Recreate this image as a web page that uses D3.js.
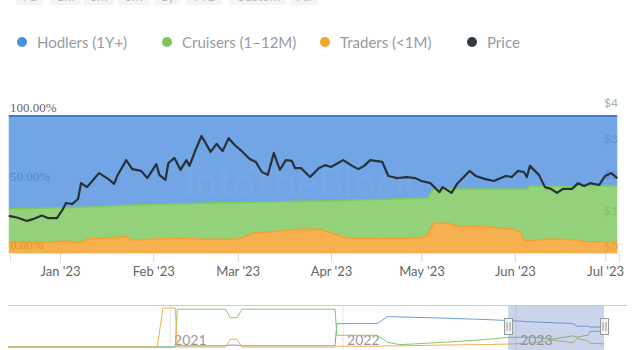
<!DOCTYPE html>
<html>
<head>
<meta charset="utf-8">
<script src="https://cdn.jsdelivr.net/npm/d3@7"></script>
<style>
  html, body { margin: 0; padding: 0; background: #fff; }
  svg { display: block; }
</style>
</head>
<body>
<svg id="chart" width="640" height="350"></svg>
<script>
// ---------------- DATA ----------------
const rangeButtons = ["7d", "1m", "3m", "6m", "1y", "YTD", "Custom", "All"];
const seriesNames = ["Hodlers (1Y+)", "Cruisers (1–12M)", "Traders (<1M)", "Price"];

const priceDates = ["2022-12-15","2022-12-18","2022-12-21","2022-12-23","2022-12-26","2022-12-28","2022-12-31",
  "2023-01-02","2023-01-03","2023-01-05","2023-01-07","2023-01-08","2023-01-10","2023-01-12","2023-01-14",
  "2023-01-17","2023-01-19","2023-01-20","2023-01-23","2023-01-25","2023-01-28","2023-01-30",
  "2023-02-02","2023-02-03","2023-02-05","2023-02-06","2023-02-08","2023-02-10","2023-02-12","2023-02-13",
  "2023-02-15","2023-02-17","2023-02-20","2023-02-22","2023-02-24","2023-02-26","2023-02-28",
  "2023-03-02","2023-03-05","2023-03-07","2023-03-09","2023-03-11","2023-03-13","2023-03-15","2023-03-17",
  "2023-03-19","2023-03-20","2023-03-22","2023-03-25","2023-03-26","2023-03-28","2023-03-30",
  "2023-04-01","2023-04-05","2023-04-08","2023-04-10","2023-04-12","2023-04-14","2023-04-18","2023-04-20",
  "2023-04-23","2023-04-26","2023-04-29",
  "2023-05-01","2023-05-04","2023-05-07","2023-05-08","2023-05-11","2023-05-13","2023-05-17","2023-05-19",
  "2023-05-22","2023-05-25","2023-05-29","2023-05-31",
  "2023-06-02","2023-06-04","2023-06-05","2023-06-06","2023-06-09","2023-06-11","2023-06-13","2023-06-15",
  "2023-06-17","2023-06-20","2023-06-22","2023-06-24","2023-06-26","2023-06-29",
  "2023-07-01","2023-07-03","2023-07-05"];
const priceValues = [1.03,0.98,0.89,0.94,1.04,0.97,0.97,
  1.22,1.39,1.36,1.50,1.94,1.83,2.03,2.22,
  2.06,1.92,2.14,2.58,2.33,2.28,2.08,
  2.47,2.17,2.03,2.50,2.64,2.31,2.58,2.42,
  2.86,3.25,2.81,3.03,2.83,3.19,3.00,
  2.86,2.61,2.53,2.25,2.17,2.78,2.31,2.58,
  2.56,2.36,2.36,2.11,2.19,2.36,2.44,
  2.39,2.58,2.42,2.33,2.42,2.58,2.53,2.14,
  2.08,2.11,2.08,
  2.00,1.94,1.69,1.83,1.67,1.94,2.28,2.14,
  2.06,2.00,2.14,2.11,
  2.28,2.25,2.11,2.42,2.17,1.83,1.78,1.67,
  1.78,1.78,1.94,1.86,1.94,1.89,
  2.14,2.22,2.08];

const shareDates = ["2022-12-15","2022-12-28","2023-01-03","2023-01-07","2023-01-10","2023-01-14","2023-01-23",
  "2023-01-25","2023-01-31","2023-02-11","2023-02-17","2023-02-28","2023-03-02","2023-03-06","2023-03-16",
  "2023-03-21","2023-03-28","2023-04-01","2023-04-05","2023-04-08","2023-04-19","2023-05-01","2023-05-03",
  "2023-05-05","2023-05-10","2023-05-13","2023-05-23","2023-05-31","2023-06-03","2023-06-04","2023-06-05",
  "2023-06-06","2023-06-13","2023-06-22","2023-06-24","2023-07-05"];
const traders = [7.5,7.8,8.8,7.5,10.0,10.7,11.9,9.5,10.0,10.7,10.0,10.0,10.7,14.4,16.3,17.3,17.3,14.8,11.9,10.7,
  10.5,11.2,13.1,21.7,21.7,19.7,19.2,17.3,15.5,9.0,9.1,9.2,10.2,9.5,8.2,8.2];
const cruisers = [24.6,25.0,24.3,25.9,23.6,23.1,22.9,25.5,25.4,25.3,26.3,26.8,26.2,22.7,21.2,20.4,20.7,23.4,26.5,27.9,
  28.7,28.7,26.9,25.0,25.0,27.0,27.5,29.4,31.2,37.7,37.6,39.7,38.7,39.4,40.7,40.7];
const hodlers = [67.9,67.2,66.9,66.6,66.4,66.2,65.2,65.0,64.6,64.0,63.7,63.2,63.1,62.9,62.5,62.3,62.0,61.8,61.6,61.4,
  60.8,60.1,60.0,53.3,53.3,53.3,53.3,53.3,53.3,53.3,53.3,51.1,51.1,51.1,51.1,51.1];

const shareTicks = [0, 50, 100];
const priceTicks = [0, 1, 2, 3, 4];

// navigator (full history)
const navDates = ["2020-01-25","2020-12-05","2020-12-17","2021-01-12","2021-01-16","2021-04-28","2021-05-08",
  "2021-05-22","2021-06-02","2021-12-15","2021-12-19","2022-03-14","2022-04-05","2022-05-01","2022-08-01",
  "2022-10-15","2022-12-15","2023-01-31","2023-03-21","2023-05-01","2023-05-10","2023-06-03","2023-06-06","2023-07-05"];
const navHodlers = [0,0,0,0,3,3,5,5,3,3,60,60,78,77,74,71,68,64.6,62.3,60.1,53.3,53.3,51.1,51.1];
const navCruisers = [0,0,0,0,97,97,75,75,97,97,30,30,12,6,12,18,24.6,25.4,20.4,28.7,25,31.2,39.7,40.7];
const navTraders = [0,0,100,100,0,0,20,20,0,0,2,2,3,3,5,6,7.5,10,17.3,11.2,21.7,15.5,9.2,8.2];

// ---------------- DRAW ----------------
const svg = d3.select("#chart");
const parse = d3.utcParse("%Y-%m-%d");
const colors = { hodlers: "#4f8ee0", cruisers: "#78c759", traders: "#f49c23", price: "#263238" };
const lineColors = { hodlers: "#3f7bd3", cruisers: "#7ccb5c", traders: "#f2a030" };
const navColors = { hodlers: "#6b9fe0", cruisers: "#84c96a", traders: "#f0b04e" };

// range buttons (clipped at top, as in the source screenshot)
const btnW = [27, 31, 31, 31, 25, 37, 58, 27];
const btnX = [16, 50, 83, 118, 155, 186, 229, 291];
const btn = svg.append("g");
rangeButtons.forEach((t, i) => {
  btn.append("rect").attr("x", btnX[i]).attr("y", -20).attr("width", btnW[i]).attr("height", 25)
    .attr("rx", 2).attr("fill", "#f4f4f4");
  btn.append("text").attr("x", btnX[i] + btnW[i] / 2).attr("y", 1).attr("text-anchor", "middle")
    .attr("font-family", "Lato, sans-serif").attr("font-size", 13).attr("fill", "#bbb").text(t);
});

// legend
const legendX = [22, 167, 325, 472];
const legendColors = ["#4a90e2", "#7ec45c", "#f5a623", "#333a40"];
const lg = svg.append("g");
seriesNames.forEach((n, i) => {
  lg.append("circle").attr("cx", legendX[i]).attr("cy", 42).attr("r", 5).attr("fill", legendColors[i]);
  lg.append("text").attr("x", legendX[i] + 15).attr("y", 47.5).attr("font-family", "Lato, sans-serif")
    .attr("font-size", 15).attr("fill", "#979ca1").text(n);
});

// scales
const L = 10, R = 619, T = 116, B = 253;
const x = d3.scaleUtc()
  .domain([new Date(Date.UTC(2022, 11, 15, 10)), new Date(Date.UTC(2023, 6, 5, 14))])
  .range([L, R]);
const yPct = d3.scaleLinear().domain([0, 100]).range([B, T]);
const yPrice = d3.scaleLinear().domain([0, 4]).range([B, 109]);

// axis labels beneath series
const leftLab = svg.append("g");
shareTicks.forEach(v => {
  leftLab.append("text").attr("x", L).attr("y", yPct(v) - 4)
    .attr("font-family", "'Liberation Serif', serif").attr("font-size", 13).attr("fill", "#666")
    .text(d3.format(".2f")(v) + "%");
});
const rightLab = svg.append("g");
priceTicks.forEach(v => {
  rightLab.append("text").attr("x", R - 1).attr("y", yPrice(v) - 2).attr("text-anchor", "end")
    .attr("font-family", "Lato, sans-serif").attr("font-size", 12).attr("fill", "#aaa")
    .text("$" + v);
});

// stacked areas
const rows = shareDates.map((d, i) => ({ date: parse(d), traders: traders[i], cruisers: cruisers[i], hodlers: hodlers[i] }));
const keys = ["traders", "cruisers", "hodlers"];
const stacked = d3.stack().keys(keys)(rows);
const area = d3.area().x(d => x(d.data.date)).y0(d => yPct(d[0])).y1(d => yPct(d[1]));
const topLine = d3.line().x(d => x(d.data.date)).y(d => yPct(d[1]));
const plot = svg.append("g");
stacked.slice().reverse().forEach(s => {
  plot.append("path").datum(s).attr("d", area).attr("fill", colors[s.key]).attr("fill-opacity", 0.8);
});
stacked.forEach(s => {
  plot.append("path").datum(s).attr("d", topLine).attr("fill", "none")
    .attr("stroke", lineColors[s.key]).attr("stroke-width", s.key === "hodlers" ? 2 : 1.5);
});

// watermark
svg.append("text").attr("x", 300).attr("y", 196).attr("text-anchor", "middle")
  .attr("font-family", "Lato, sans-serif").attr("font-weight", 700).attr("font-size", 40)
  .attr("fill", "#fff").attr("fill-opacity", 0.05).text("IntoTheBlock");

// price line
const prices = priceDates.map((d, i) => ({ date: parse(d), v: priceValues[i] }));
plot.append("path").datum(prices)
  .attr("d", d3.line().x(d => x(d.date)).y(d => yPrice(d.v)))
  .attr("fill", "none").attr("stroke", colors.price).attr("stroke-width", 2.2).attr("stroke-linejoin", "round");

// x axis
const xAxis = svg.append("g").attr("transform", `translate(0,${B})`)
  .call(d3.axisBottom(x).ticks(d3.utcMonth.every(1)).tickFormat(d3.utcFormat("%b '%y")).tickSize(9).tickPadding(5));
xAxis.select(".domain").attr("stroke", "#dde3ee");
xAxis.selectAll(".tick line").attr("stroke", "#ccd6eb");
xAxis.selectAll(".tick text").attr("font-family", "Lato, sans-serif").attr("font-size", 13).attr("fill", "#666");

// ---------------- NAVIGATOR ----------------
const nx = d3.scaleUtc().domain([parse("2020-01-25"), parse("2023-08-21")]).range([8, 626]);
const ny = d3.scaleLinear().domain([0, 100]).range([347, 308]);
const nav = svg.append("g");
nx.ticks(d3.utcYear.every(1)).forEach(t => {
  if (nx(t) < 20) return;
  nav.append("line").attr("x1", nx(t)).attr("x2", nx(t)).attr("y1", 305).attr("y2", 350)
    .attr("stroke", "#e6e6e6");
  nav.append("text").attr("x", nx(t) + 4).attr("y", 345).attr("font-family", "Lato, sans-serif")
    .attr("font-size", 14).attr("fill", "#999").text(d3.utcFormat("%Y")(t));
});
nav.append("line").attr("x1", 8).attr("x2", 627).attr("y1", 305.5).attr("y2", 305.5).attr("stroke", "#ccc");
const navRows = navDates.map((d, i) => ({ date: parse(d), hodlers: navHodlers[i], cruisers: navCruisers[i], traders: navTraders[i] }));
["hodlers", "cruisers", "traders"].forEach(k => {
  nav.append("path").datum(navRows)
    .attr("d", d3.line().x(d => nx(d.date)).y(d => ny(d[k])))
    .attr("fill", "none").attr("stroke", navColors[k]).attr("stroke-width", 1);
});
const selStart = x.domain()[0], selEnd = x.domain()[1];
nav.append("rect").attr("x", nx(selStart)).attr("y", 306).attr("width", nx(selEnd) - nx(selStart)).attr("height", 44)
  .attr("fill", "#6685c2").attr("fill-opacity", 0.35);
[selStart, selEnd].forEach(d => {
  const hx = Math.round(nx(d)) + 0.5;
  nav.append("rect").attr("x", hx - 4).attr("y", 318.5).attr("width", 8).attr("height", 16)
    .attr("fill", "#f2f2f2").attr("stroke", "#999");
  nav.append("line").attr("x1", hx - 1.5).attr("x2", hx - 1.5).attr("y1", 322).attr("y2", 331).attr("stroke", "#999");
  nav.append("line").attr("x1", hx + 1.5).attr("x2", hx + 1.5).attr("y1", 322).attr("y2", 331).attr("stroke", "#999");
});
</script>
</body>
</html>
